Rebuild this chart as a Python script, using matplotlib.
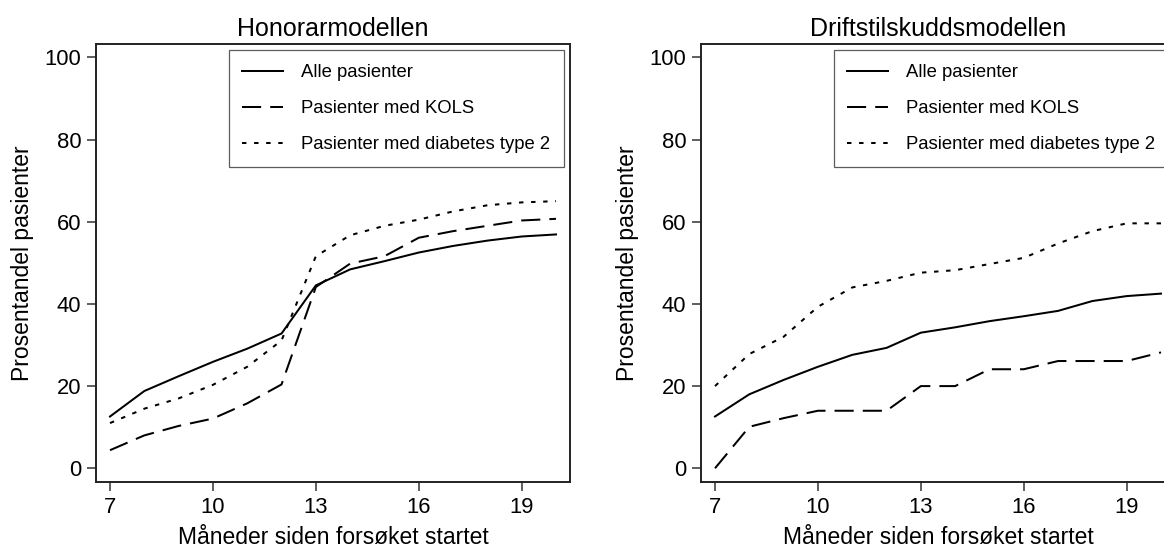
import matplotlib
matplotlib.use("Agg")
import matplotlib.pyplot as plt

plt.rcParams['font.family'] = ['Liberation Sans', 'DejaVu Sans']

months = [7, 8, 9, 10, 11, 12, 13, 14, 15, 16, 17, 18, 19, 20]
xticks = [7, 10, 13, 16, 19]
yticks = [0, 20, 40, 60, 80, 100]

series_labels = ["Alle pasienter", "Pasienter med KOLS", "Pasienter med diabetes type 2"]
titles = ["Honorarmodellen", "Driftstilskuddsmodellen"]
xlabel = "Måneder siden forsøket startet"
ylabel = "Prosentandel pasienter"

# Honorarmodellen
hon_alle = [12.6, 18.8, 22.4, 25.9, 29.1, 32.8, 44.5, 48.4, 50.4, 52.5, 54.1, 55.4, 56.4, 56.9]
hon_kols = [4.4, 8.0, 10.3, 12.1, 15.8, 20.4, 44.1, 49.8, 51.6, 56.1, 57.7, 59.0, 60.3, 60.7]
hon_diab = [11.0, 14.5, 17.0, 20.3, 24.7, 31.1, 51.6, 56.7, 59.0, 60.5, 62.5, 64.0, 64.7, 65.0]

# Driftstilskuddsmodellen
dri_alle = [12.6, 18.0, 21.5, 24.7, 27.6, 29.3, 33.0, 34.3, 35.8, 37.0, 38.3, 40.7, 41.9, 42.5]
dri_kols = [0.0, 10.1, 12.2, 14.0, 14.0, 14.0, 20.0, 20.0, 24.1, 24.1, 26.1, 26.1, 26.1, 28.2]
dri_diab = [20.0, 27.8, 32.0, 39.3, 44.0, 45.6, 47.6, 48.2, 49.7, 51.2, 54.7, 57.7, 59.6, 59.6]

panels = [
    (titles[0], [hon_alle, hon_kols, hon_diab]),
    (titles[1], [dri_alle, dri_kols, dri_diab]),
]

W, H = 1164, 549
fig = plt.figure(figsize=(W / 100, H / 100), dpi=100)

styles = [
    dict(linestyle='-'),
    dict(linestyle=(0, (9.5, 4.5))),
    dict(linestyle=(0, (2.2, 3.8))),
]

lefts_px = [96, 701]
ax_w_px = 474
top_px, bot_px = 44, 482.3

for (title, data), lpx in zip(panels, lefts_px):
    ax = fig.add_axes([lpx / W, (H - bot_px) / H, ax_w_px / W, (bot_px - top_px) / H])
    for vals, lab, st in zip(data, series_labels, styles):
        ax.plot(months, vals, color='black', linewidth=1.45, label=lab, **st)
    ax.set_xlim(6.592, 20.408)
    ax.set_ylim(-3.41, 103.24)
    ax.set_xticks(xticks)
    ax.set_yticks(yticks)
    ax.tick_params(axis='both', direction='out', length=6.5, width=1.1, color='#333333',
                   labelsize=15.8, pad=4)
    for sp in ax.spines.values():
        sp.set_linewidth(1.4)
        sp.set_color('#222222')
    ax.set_title(title, fontsize=18, pad=6)
    ax.set_xlabel(xlabel, fontsize=16.5, labelpad=6)
    ax.set_ylabel(ylabel, fontsize=16.5, labelpad=8)
    leg = ax.legend(loc='upper right', fontsize=13.3, frameon=True, fancybox=False,
                    handlelength=2.2, handletextpad=0.95, labelspacing=1.02,
                    borderpad=0.75, borderaxespad=0.35)
    leg.get_frame().set_edgecolor('#333333')
    leg.get_frame().set_linewidth(0.9)

fig.savefig("out.png", dpi=100)
